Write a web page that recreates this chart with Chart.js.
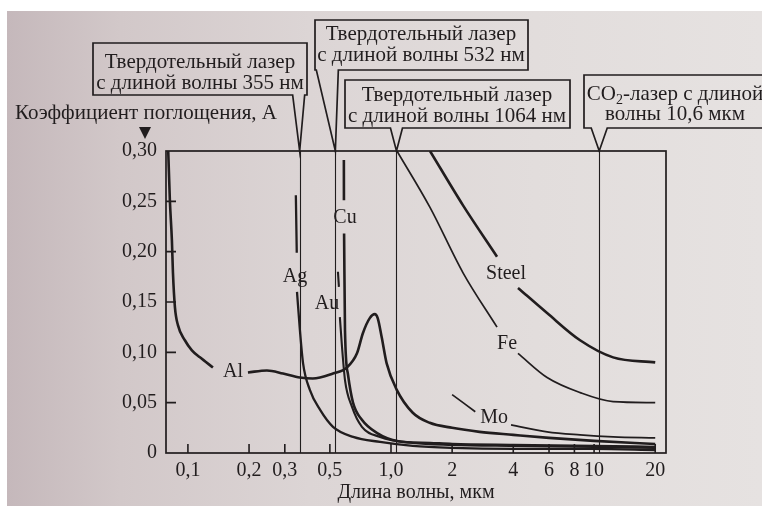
<!DOCTYPE html>
<html>
<head>
<meta charset="utf-8">
<script src="https://cdn.jsdelivr.net/npm/chart.js@4.4.1/dist/chart.umd.min.js"></script>
<style>
  html, body { margin: 0; padding: 0; background: #fff; }
  #page {
    position: absolute; left: 7px; top: 11px; width: 755px; height: 495px;
    background: linear-gradient(90deg, #c5b8bb 0%, #d2c8c9 15%, #dcd5d5 40%, #e2dddc 70%, #e6e2e1 100%);
  }
  #wrap { position: absolute; left: 0; top: 0; width: 762px; height: 506px; }
</style>
</head>
<body>
<div id="page"></div>
<div id="wrap"><canvas id="chart" width="762" height="506"></canvas></div>
<script>
// axis ticks
const xTickValues = [0.1, 0.2, 0.3, 0.5, 1, 2, 4, 6, 8, 10, 20];
const xTickLabels = ["0,1", "0,2", "0,3", "0,5", "1,0", "2", "4", "6", "8", "10", "20"];
const yTickLabels = ["0", "0,05", "0,10", "0,15", "0,20", "0,25", "0,30"];

// laser wavelengths, мкм
const laserWavelengths = [0.355, 0.532, 1.064, 10.6];

// absorption curves (x = wavelength in мкм, y = A); null = break for the label
const alX = [0.08, 0.0815, 0.0834, 0.0844, 0.0863, 0.0893, 0.0966, 0.1046, 0.1146, 0.1328, 0.165, 0.1975, 0.245, 0.294, 0.356, 0.412, 0.518, 0.607, 0.68, 0.727, 0.786, 0.832, 0.86, 0.9, 0.952, 1.066, 1.28, 1.55, 2.0, 2.73, 4, 6, 10, 20];
const alY = [0.300, 0.251, 0.211, 0.179, 0.145, 0.127, 0.112, 0.102, 0.095, 0.085, null, 0.080, 0.082, 0.079, 0.075, 0.074, 0.079, 0.085, 0.099, 0.119, 0.134, 0.138, 0.134, 0.115, 0.089, 0.063, 0.040, 0.030, 0.025, 0.021, 0.018, 0.015, 0.012, 0.009];

const agX = [0.340, 0.3435, 0.344, 0.3445, 0.356, 0.369, 0.398, 0.447, 0.518, 0.651, 0.883, 1.28, 2, 4, 10, 20];
const agY = [0.256, 0.199, null, 0.160, 0.122, 0.089, 0.063, 0.043, 0.026, 0.016, 0.011, 0.007, 0.005, 0.004, 0.004, 0.003];

const cuX = [0.586, 0.5865, 0.587, 0.5875, 0.5935, 0.614, 0.650, 0.719, 0.851, 1.07, 1.556, 2, 4, 10, 20];
const cuY = [0.291, 0.251, null, 0.218, 0.122, 0.078, 0.050, 0.033, 0.020, 0.012, 0.010, 0.009, 0.008, 0.007, 0.006];

const auX = [0.548, 0.554, 0.557, 0.560, 0.574, 0.594, 0.642, 0.719, 0.883, 1.28, 2, 4, 10, 20];
const auY = [0.180, 0.165, null, 0.135, 0.105, 0.072, 0.046, 0.026, 0.016, 0.010, 0.008, 0.007, 0.006, 0.005];

const steelX = [1.556, 2.263, 3.327, 3.7, 4.22, 5.87, 8.53, 12.41, 20];
const steelY = [0.300, 0.246, 0.195, null, 0.164, 0.139, 0.112, 0.095, 0.090];

const feX = [1.07, 1.556, 2.263, 3.327, 3.7, 4.22, 5.87, 8.53, 12.41, 20];
const feY = [0.300, 0.244, 0.179, 0.125, null, 0.099, 0.075, 0.060, 0.051, 0.050];

const moX = [2.0, 2.6, 3.2, 3.9, 5.87, 8.53, 12.41, 20];
const moY = [0.058, 0.041, null, 0.028, 0.021, 0.018, 0.016, 0.015];

const ink = "#211d1e";
const serif = "'Liberation Serif', 'Times New Roman', serif";

function pts(xs, ys) {
  return xs.map((v, i) => ({ x: v, y: ys[i] }));
}

function curve(label, xs, ys, width) {
  return {
    label: label,
    data: pts(xs, ys),
    borderColor: ink,
    borderWidth: width,
    pointRadius: 0,
    cubicInterpolationMode: "monotone",
    spanGaps: false,
    fill: false
  };
}

// labels next to the curves, anchored in data units
const curveLabels = [
  { text: "Al", x: 0.1667, y: 0.0804 },
  { text: "Ag", x: 0.3365, y: 0.175 },
  { text: "Cu", x: 0.5935, y: 0.234 },
  { text: "Au", x: 0.484, y: 0.148 },
  { text: "Steel", x: 3.686, y: 0.178 },
  { text: "Fe", x: 3.73, y: 0.109 },
  { text: "Mo", x: 3.217, y: 0.035 }
];

// callout boxes above the plot, one per laser line
const callouts = [
  { lines: [[["Твердотельный лазер"]], [["с длиной волны 355 нм"]]], box: [93, 43, 307, 95], cx: 200, ty: [62, 83], tail: [-7, 5] },
  { lines: [[["Твердотельный лазер"]], [["с длиной волны 532 нм"]]], box: [315, 20, 528, 70], cx: 421, ty: [34, 55], tail: [-19, 3] },
  { lines: [[["Твердотельный лазер"]], [["с длиной волны 1064 нм"]]], box: [345, 80, 570, 128], cx: 457, ty: [95, 116], tail: [-6, 6] },
  { lines: [[["CO"], ["2", true], ["-лазер с длиной"]], [["волны 10,6 мкм"]]], box: [584, 75, 775, 128], cx: 675, ty: [94, 114], tail: [-8, 8] }
];

function richText(ctx, segs, cx, cy) {
  const big = "21px " + serif, small = "14px " + serif;
  let w = 0;
  segs.forEach(s => { ctx.font = s[1] ? small : big; w += ctx.measureText(s[0]).width; });
  let xx = cx - w / 2;
  segs.forEach(s => {
    ctx.font = s[1] ? small : big;
    ctx.fillText(s[0], xx, s[1] ? cy + 6 : cy);
    xx += ctx.measureText(s[0]).width;
  });
}

const decor = {
  id: "decor",
  afterDatasetsDraw(chart) {
    const { ctx, chartArea: a, scales: { x, y } } = chart;
    ctx.save();
    ctx.strokeStyle = ink;
    ctx.fillStyle = ink;

    // frame
    ctx.lineWidth = 1.7;
    ctx.strokeRect(a.left, a.top, a.right - a.left, a.bottom - a.top);

    // inward ticks
    ctx.lineWidth = 1.6;
    ctx.beginPath();
    y.ticks.forEach(t => {
      if (t.value <= 0 || t.value >= 0.3) return;
      const py = y.getPixelForValue(t.value);
      ctx.moveTo(a.left, py); ctx.lineTo(a.left + 10, py);
    });
    xTickValues.forEach(v => {
      const px = x.getPixelForValue(v);
      ctx.moveTo(px, a.bottom); ctx.lineTo(px, a.bottom - 9);
    });
    ctx.stroke();

    // laser lines
    ctx.lineWidth = 1.1;
    ctx.beginPath();
    laserWavelengths.forEach(w => {
      const px = Math.round(x.getPixelForValue(w)) + 0.5;
      ctx.moveTo(px, a.bottom); ctx.lineTo(px, a.top);
    });
    ctx.stroke();

    // callouts
    ctx.lineWidth = 1.7;
    ctx.textAlign = "left";
    ctx.textBaseline = "middle";
    callouts.forEach((c, i) => {
      const tip = x.getPixelForValue(laserWavelengths[i]);
      const [x0, y0, x1, y1] = c.box;
      ctx.beginPath();
      ctx.moveTo(x0, y0);
      ctx.lineTo(x1, y0);
      ctx.lineTo(x1, y1);
      ctx.lineTo(tip + c.tail[1], y1);
      ctx.lineTo(tip, a.top);
      ctx.lineTo(tip + c.tail[0], y1);
      ctx.lineTo(x0, y1);
      ctx.closePath();
      ctx.stroke();
      c.lines.forEach((segs, j) => richText(ctx, segs, c.cx, c.ty[j]));
    });

    // y axis title with marker
    ctx.font = "21px " + serif;
    ctx.textAlign = "left";
    ctx.fillText("Коэффициент поглощения, А", 15, 113);
    ctx.beginPath();
    ctx.moveTo(139, 127); ctx.lineTo(151, 127); ctx.lineTo(145, 139);
    ctx.closePath();
    ctx.fill();

    // curve labels
    ctx.font = "20px " + serif;
    ctx.textAlign = "center";
    curveLabels.forEach(l => {
      ctx.fillText(l.text, x.getPixelForValue(l.x), y.getPixelForValue(l.y));
    });
    ctx.restore();
  }
};

Chart.defaults.font.family = serif;
Chart.defaults.font.size = 20;
Chart.defaults.color = ink;

new Chart(document.getElementById("chart"), {
  type: "line",
  data: {
    datasets: [
      curve("Al", alX, alY, 2.6),
      curve("Ag", agX, agY, 2.3),
      curve("Cu", cuX, cuY, 2.6),
      curve("Au", auX, auY, 2.1),
      curve("Steel", steelX, steelY, 2.6),
      curve("Fe", feX, feY, 1.7),
      curve("Mo", moX, moY, 1.7)
    ]
  },
  options: {
    responsive: false,
    animation: false,
    layout: { padding: { top: 151, right: 96, bottom: 0, left: 0 } },
    plugins: { legend: { display: false }, tooltip: { enabled: false } },
    scales: {
      x: {
        type: "logarithmic",
        min: 0.078,
        max: 22.6,
        afterBuildTicks: s => { s.ticks = xTickValues.map(v => ({ value: v })); },
        afterFit: s => { s.height = 53; },
        grid: { display: false, drawTicks: false },
        border: { display: false },
        ticks: {
          autoSkip: false,
          maxRotation: 0,
          padding: 6,
          callback: (v, i) => xTickLabels[i]
        },
        title: {
          display: true,
          text: "Длина волны, мкм",
          font: { size: 20, lineHeight: 1.2 },
          padding: { top: 0, bottom: 1 }
        }
      },
      y: {
        min: 0,
        max: 0.3,
        afterFit: s => { s.width = 166; },
        grid: { display: false, drawTicks: false },
        border: { display: false },
        ticks: {
          stepSize: 0.05,
          padding: 9,
          callback: (v, i) => yTickLabels[i]
        }
      }
    }
  },
  plugins: [decor]
});
</script>
</body>
</html>
